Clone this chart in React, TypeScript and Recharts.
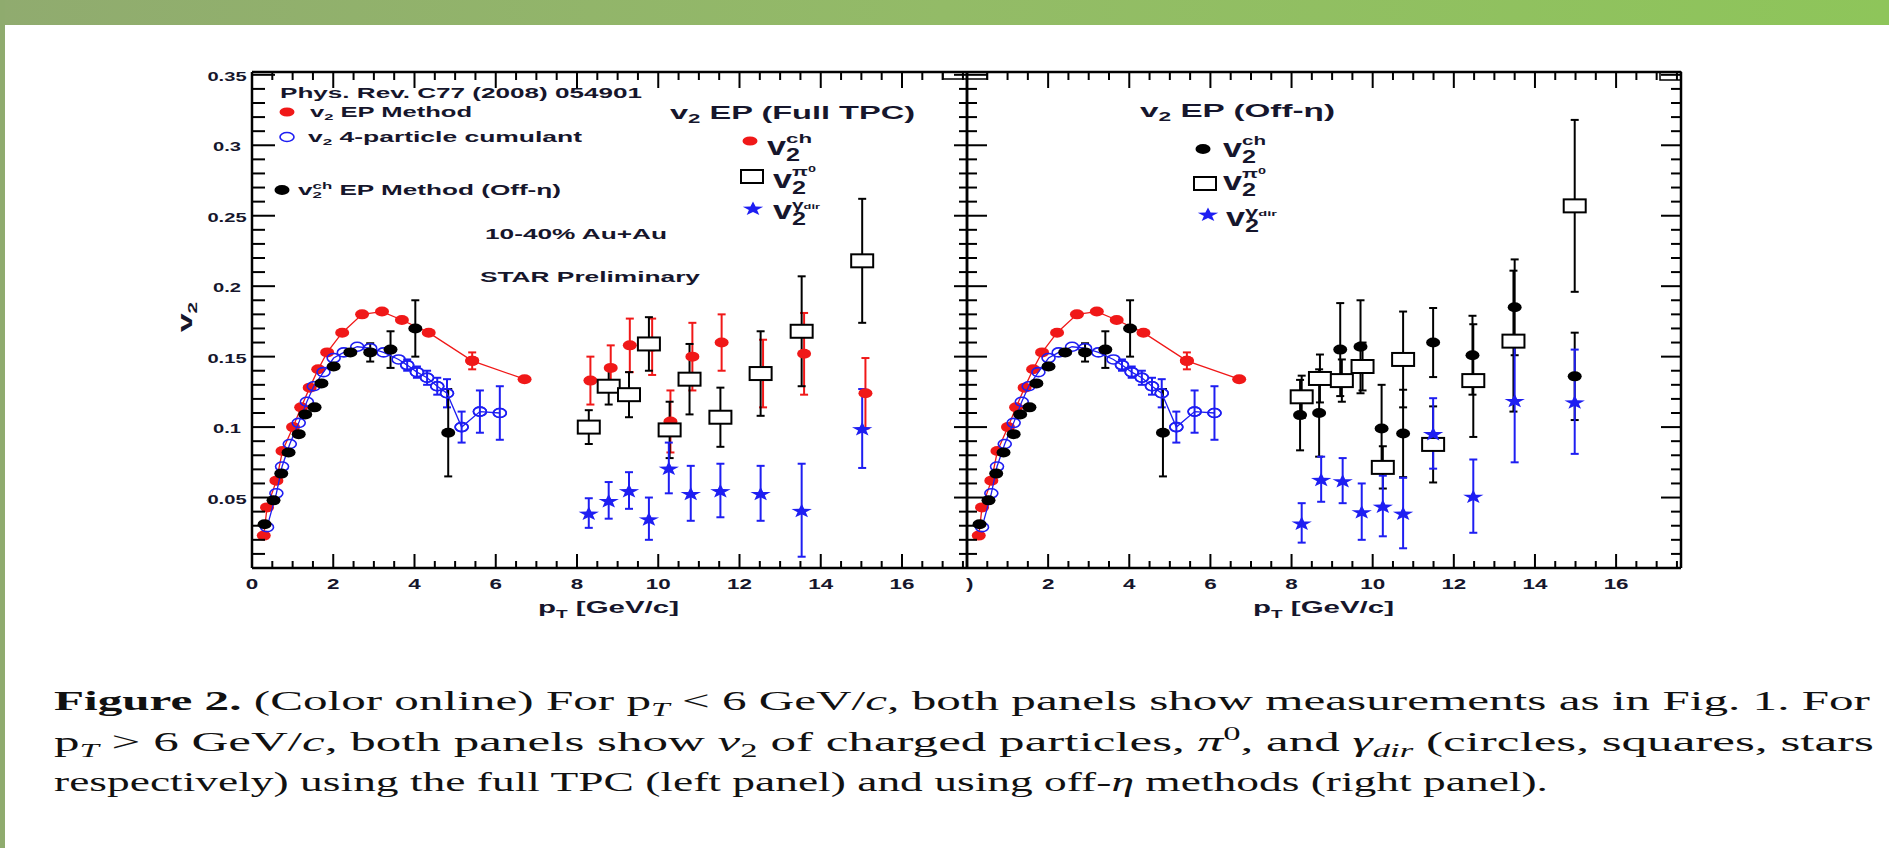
import React from 'react';
import { ScatterChart, Scatter, XAxis, YAxis, ErrorBar } from 'recharts';

// page + plot frame (px)
const W = 1889;
const H = 848;
const TOP = 72;
const BOTTOM = 568;
const L0 = 252;
const SPLIT = 967;
const R1 = 1681;
const X_MAX = 17.6;
const Y_MAX = 0.352;

const RED = '#f01818';
const BLUE = '#1e1ef2';
const INK = '#16162c';
const SANS = '"Liberation Sans", Arial, Helvetica, sans-serif';
const SERIF = '"Liberation Serif", "DejaVu Serif", serif';

// ---- data: low pT (same in both panels) ----
const epPt = [0.29, 0.37, 0.6, 0.75, 1.01, 1.21, 1.42, 1.63, 1.85, 2.22, 2.71, 3.2, 3.69, 4.35, 5.42, 6.71];
const epV2 = [0.023, 0.043, 0.062, 0.083, 0.1, 0.114, 0.128, 0.141, 0.153, 0.167, 0.18, 0.182, 0.176, 0.167, 0.147, 0.134];
const epErrPt = [5.42];
const epErrV2 = [0.147];
const epErr = [0.006];

const cuPt = [0.37, 0.6, 0.74, 0.93, 1.15, 1.35, 1.52, 1.76, 2.01, 2.26, 2.59, 2.91, 3.24, 3.61, 3.82, 4.06, 4.31, 4.56, 4.8, 5.16, 5.61, 6.1];
const cuV2 = [0.029, 0.053, 0.072, 0.088, 0.103, 0.118, 0.129, 0.139, 0.149, 0.153, 0.157, 0.156, 0.153, 0.148, 0.144, 0.139, 0.135, 0.129, 0.124, 0.1, 0.111, 0.11];
const cuErrPt = [3.82, 4.06, 4.31, 4.56, 4.8, 5.16, 5.61, 6.1];
const cuErrV2 = [0.144, 0.139, 0.135, 0.129, 0.124, 0.1, 0.111, 0.11];
const cuErr = [0.004, 0.004, 0.005, 0.006, 0.01, 0.011, 0.015, 0.019];

const offPt = [0.31, 0.53, 0.72, 0.9, 1.15, 1.31, 1.54, 1.71, 2.01, 2.42, 2.91, 3.41, 4.02, 4.83];
const offV2 = [0.031, 0.048, 0.067, 0.082, 0.095, 0.109, 0.114, 0.131, 0.143, 0.153, 0.153, 0.155, 0.17, 0.096];
const offErr = [0, 0, 0, 0, 0, 0, 0, 0, 0, 0, 0.0065, 0.013, 0.02, 0.031];

// ---- data: high pT, full TPC (left) ----
const chFullPt = [8.33, 8.83, 9.3, 9.85, 10.3, 10.84, 11.56, 12.58, 13.59, 15.1];
const chFullV2 = [0.133, 0.142, 0.158, 0.157, 0.104, 0.15, 0.16, 0.138, 0.152, 0.124];
const chFullErr = [0.017, 0.016, 0.019, 0.02, 0.022, 0.024, 0.02, 0.024, 0.029, 0.025];

const pi0FullPt = [8.29, 8.78, 9.28, 9.77, 10.28, 10.77, 11.53, 12.52, 13.53, 15.02];
const pi0FullV2 = [0.1, 0.129, 0.123, 0.159, 0.098, 0.134, 0.107, 0.138, 0.168, 0.218];
const pi0FullErr = [0.012, 0.013, 0.016, 0.019, 0.02, 0.025, 0.021, 0.03, 0.039, 0.044];

const gamFullPt = [8.29, 8.78, 9.28, 9.77, 10.26, 10.8, 11.53, 12.52, 13.53, 15.02];
const gamFullV2 = [0.039, 0.048, 0.055, 0.035, 0.071, 0.053, 0.055, 0.053, 0.041, 0.099];
const gamFullErr = [0.0105, 0.013, 0.013, 0.015, 0.018, 0.0195, 0.019, 0.0195, 0.033, 0.028];

// ---- data: high pT, off-eta (right) ----
const chOffPt = [8.21, 8.68, 9.2, 9.7, 10.22, 10.75, 11.49, 12.46, 13.5, 14.98];
const chOffV2 = [0.1085, 0.11, 0.155, 0.157, 0.099, 0.0955, 0.16, 0.151, 0.185, 0.136];
const chOffErr = [0.025, 0.031, 0.033, 0.033, 0.031, 0.031, 0.0245, 0.028, 0.034, 0.031];

const pi0OffPt = [8.25, 8.7, 9.24, 9.75, 10.25, 10.75, 11.49, 12.48, 13.47, 14.98];
const pi0OffV2 = [0.1215, 0.1345, 0.133, 0.143, 0.0714, 0.148, 0.0877, 0.133, 0.161, 0.257];
const pi0OffErr = [0.015, 0.017, 0.015, 0.017, 0.015, 0.034, 0.027, 0.04, 0.05, 0.061];

const gamOffPt = [8.25, 8.73, 9.26, 9.73, 10.25, 10.75, 11.49, 12.48, 13.5, 14.98];
const gamOffV2 = [0.032, 0.063, 0.062, 0.04, 0.044, 0.039, 0.0955, 0.051, 0.119, 0.118];
const gamOffErr = [0.014, 0.016, 0.016, 0.02, 0.0215, 0.025, 0.025, 0.026, 0.044, 0.037];

// ---- ticks ----
const xTickLabels = ['0', '2', '4', '6', '8', '10', '12', '14', '16'];
const yTickLabels = ['0.05', '0.1', '0.15', '0.2', '0.25', '0.3', '0.35'];
const xTicks = Array.from({ length: 36 }, (_, i) => i * 0.5);
const yTicks = Array.from({ length: 36 }, (_, i) => i / 100);

const pts = (xs: number[], ys: number[], es?: number[]) =>
  xs.map((x, i) => ({ x, y: ys[i], e: es ? es[i] : 0 }));

const xLabelOf = (v: number) => xTickLabels.find((s) => Number(s) === v);
const yLabelOf = (v: number) => yTickLabels.find((s) => Math.abs(Number(s) - v) < 1e-9);

type Side = 'bottom' | 'top' | 'left' | 'right';

const makeTick = (side: Side, major: number, minor: number, labels: boolean, skip: string[] = []) =>
  (props: any) => {
    const { x, y, payload } = props;
    const v = payload.value as number;
    const horiz = side === 'bottom' || side === 'top';
    const lab = horiz ? xLabelOf(v) : yLabelOf(v);
    const isMajor = horiz ? Math.abs(v % 2) < 1e-9 : lab !== undefined;
    const len = isMajor ? major : minor;
    let x2 = x;
    let y2 = y;
    if (side === 'bottom') y2 = y - len;
    if (side === 'top') y2 = y + len;
    if (side === 'left') x2 = x + len;
    if (side === 'right') x2 = x - len;
    const showLab = labels && lab !== undefined && !skip.includes(lab);
    return (
      <g>
        <line x1={x} y1={y} x2={x2} y2={y2} stroke="#000" strokeWidth={2} />
        {showLab && side === 'bottom' && (
          <text transform={`translate(${x},${y + 21}) scale(1.6,1)`} textAnchor="middle" fontSize={14}
            fontWeight="bold" fontFamily={SANS} fill={INK}>{lab}</text>
        )}
        {showLab && side === 'left' && (
          <text transform={`translate(${x - 25},${y + 6}) scale(1.55,1)`} textAnchor="middle" fontSize={13}
            fontWeight="bold" fontFamily={SANS} fill={INK}>{lab}</text>
        )}
      </g>
    );
  };

// ---- marker shapes ----
const dot = (fill: string) => (p: any) => <ellipse cx={p.cx} cy={p.cy} rx={7} ry={5} fill={fill} />;
const ring = (p: any) => (
  <ellipse cx={p.cx} cy={p.cy} rx={6.5} ry={4.5} fill="none" stroke={BLUE} strokeWidth={1.6} />
);
const box = (p: any) => (
  <rect x={p.cx - 11} y={p.cy - 6.5} width={22} height={13} fill="#fff" stroke="#000" strokeWidth={2} />
);
const starPath = (cx: number, cy: number) => {
  const R = 7.4;
  const r = 3;
  const sx = 1.45;
  let d = '';
  for (let i = 0; i < 10; i++) {
    const a = -Math.PI / 2 + (i * Math.PI) / 5;
    const rad = i % 2 === 0 ? R : r;
    d += (i ? 'L' : 'M') + (cx + Math.cos(a) * rad * sx).toFixed(1) + ',' + (cy + Math.sin(a) * rad + 1).toFixed(1);
  }
  return d + 'Z';
};
const star = (p: any) => <path d={starPath(p.cx, p.cy)} fill={BLUE} />;

const axisLine = { stroke: '#000', strokeWidth: 2.5 };

function Panel(props: {
  left: number;
  right: number;
  ticks: [number, number, number, number, number, number, number, number];
  skip: string[];
  children: React.ReactNode;
}) {
  const { left, right, ticks: t, skip, children } = props;
  // every axis is 1px thick, so the margins are shrunk by 1 to keep the frame where it belongs
  return (
    <div style={{ position: 'absolute', left: 0, top: 0 }}>
      <ScatterChart width={W} height={H}
        margin={{ top: TOP - 1, bottom: H - BOTTOM - 1, left: left - 1, right: W - right - 1 }}>
        <XAxis xAxisId="b" type="number" dataKey="x" domain={[0, X_MAX]} allowDataOverflow ticks={xTicks}
          interval={0} height={1} tickSize={0} tickMargin={0} tickLine={false} axisLine={axisLine}
          tick={makeTick('bottom', t[0], t[1], true, skip)} />
        <XAxis xAxisId="t" orientation="top" type="number" dataKey="x" domain={[0, X_MAX]} allowDataOverflow
          ticks={xTicks} interval={0} height={1} tickSize={0} tickMargin={0} tickLine={false} axisLine={axisLine}
          tick={makeTick('top', t[2], t[3], false)} />
        <YAxis yAxisId="l" type="number" dataKey="y" domain={[0, Y_MAX]} allowDataOverflow ticks={yTicks}
          interval={0} width={1} tickSize={0} tickMargin={0} tickLine={false} axisLine={axisLine}
          tick={makeTick('left', t[4], t[5], left === L0)} />
        <YAxis yAxisId="r" orientation="right" type="number" dataKey="y" domain={[0, Y_MAX]} allowDataOverflow
          ticks={yTicks} interval={0} width={1} tickSize={0} tickMargin={0} tickLine={false} axisLine={axisLine}
          tick={makeTick('right', t[6], t[7], false)} />
        {children}
      </ScatterChart>
    </div>
  );
}

const lowPtSeries = (key: string) => [
  <Scatter key={key + 'ep'} xAxisId="b" yAxisId="l" data={pts(epPt, epV2)} shape={dot(RED)}
    line={{ stroke: RED, strokeWidth: 1.3 }} isAnimationActive={false} />,
  <Scatter key={key + 'epe'} xAxisId="b" yAxisId="l" data={pts(epErrPt, epErrV2, epErr)} shape={dot(RED)}
    isAnimationActive={false}>
    <ErrorBar dataKey="e" direction="y" width={4} stroke={RED} strokeWidth={2} isAnimationActive={false} />
  </Scatter>,
  <Scatter key={key + 'cu'} xAxisId="b" yAxisId="l" data={pts(cuPt, cuV2)} shape={ring}
    line={{ stroke: BLUE, strokeWidth: 1.3 }} isAnimationActive={false} />,
  <Scatter key={key + 'cue'} xAxisId="b" yAxisId="l" data={pts(cuErrPt, cuErrV2, cuErr)} shape={ring}
    isAnimationActive={false}>
    <ErrorBar dataKey="e" direction="y" width={4} stroke={BLUE} strokeWidth={2} isAnimationActive={false} />
  </Scatter>,
  <Scatter key={key + 'off'} xAxisId="b" yAxisId="l" data={pts(offPt, offV2, offErr)} shape={dot('#000')}
    isAnimationActive={false}>
    <ErrorBar dataKey="e" direction="y" width={4} stroke="#000" strokeWidth={2} isAnimationActive={false} />
  </Scatter>,
];

const hiSeries = (key: string, data: { x: number; y: number; e: number }[], shape: any, color: string) => (
  <Scatter key={key} xAxisId="b" yAxisId="l" data={data} shape={shape} isAnimationActive={false}>
    <ErrorBar dataKey="e" direction="y" width={4} stroke={color} strokeWidth={2} isAnimationActive={false} />
  </Scatter>
);

function Txt(p: { x: number; y: number; w?: number; size: number; children: React.ReactNode; anchor?: string }) {
  return (
    <text x={p.x} y={p.y} textLength={p.w} lengthAdjust={p.w ? 'spacingAndGlyphs' : undefined} fontSize={p.size}
      fontWeight="bold" fontFamily={SANS} fill={INK} textAnchor={p.anchor as any}>
      {p.children}
    </text>
  );
}

// stacked v_2^{...} legend label
function VLabel(p: { x: number; y: number; sup: React.ReactNode; supW: number; supDy?: number }) {
  return (
    <g>
      <Txt x={p.x} y={p.y} w={19} size={26}>v</Txt>
      <Txt x={p.x + 19} y={p.y + 6} w={14} size={18}>2</Txt>
      <Txt x={p.x + 19} y={p.y - 12 + (p.supDy || 0)} w={p.supW} size={13}>{p.sup}</Txt>
    </g>
  );
}

function Overlay() {
  const ital = { fontStyle: 'italic' as const };
  return (
    <svg width={W} height={H} style={{ position: 'absolute', left: 0, top: 0 }}>
      {/* small frame boxes */}
      <rect x={943} y={72} width={44} height={7} fill="none" stroke="#000" strokeWidth={1.5} />
      <rect x={1660} y={72} width={21} height={8} fill="none" stroke="#000" strokeWidth={1.5} />

      {/* left panel notes */}
      <Txt x={280} y={98} w={362} size={14}>Phys. Rev. C77 (2008) 054901</Txt>
      <ellipse cx={287} cy={112} rx={7.5} ry={4.5} fill={RED} />
      <Txt x={310} y={117} w={162} size={14}>v<tspan dy={3} fontSize={9}>2</tspan><tspan dy={-3}> EP Method</tspan></Txt>
      <ellipse cx={287} cy={137} rx={7} ry={4.5} fill="none" stroke={BLUE} strokeWidth={1.6} />
      <Txt x={308} y={142} w={274} size={14}>v<tspan dy={3} fontSize={9}>2</tspan><tspan dy={-3}> 4-particle cumulant</tspan></Txt>
      <ellipse cx={282} cy={190} rx={7.5} ry={5} fill="#000" />
      <Txt x={298} y={195} w={263} size={14}>v<tspan dy={3} fontSize={9}>2</tspan><tspan dy={-9} dx={-5} fontSize={9}>ch</tspan><tspan dy={6}> EP Method (Off-η)</tspan></Txt>
      <Txt x={485} y={239} w={182} size={14}>10-40% Au+Au</Txt>
      <Txt x={480} y={282} w={220} size={14}>STAR Preliminary</Txt>
      <Txt x={670} y={119} w={245} size={19}>v<tspan dy={4} fontSize={13}>2</tspan><tspan dy={-4}> EP (Full TPC)</tspan></Txt>

      <ellipse cx={750} cy={141} rx={7.5} ry={4.5} fill={RED} />
      <VLabel x={767} y={155} sup="ch" supW={26} />
      <rect x={741} y={170} width={22} height={13} fill="#fff" stroke="#000" strokeWidth={2} />
      <VLabel x={773} y={188} sup={<>π<tspan dy={-4} fontSize={9}>0</tspan></>} supW={24} />
      <path d={starPath(753, 208)} fill={BLUE} />
      <VLabel x={773} y={219} sup={<>γ<tspan fontSize={8}>dir</tspan></>} supW={28} supDy={2} />

      {/* right panel notes */}
      <Txt x={1140} y={117} w={195} size={19}>v<tspan dy={4} fontSize={13}>2</tspan><tspan dy={-4}> EP (Off-η)</tspan></Txt>
      <ellipse cx={1203} cy={149} rx={7.5} ry={5} fill="#000" />
      <VLabel x={1223} y={157} sup="ch" supW={24} />
      <rect x={1194} y={177} width={22} height={13} fill="#fff" stroke="#000" strokeWidth={2} />
      <VLabel x={1223} y={190} sup={<>π<tspan dy={-4} fontSize={9}>0</tspan></>} supW={24} />
      <path d={starPath(1208, 214)} fill={BLUE} />
      <VLabel x={1226} y={226} sup={<>γ<tspan fontSize={8}>dir</tspan></>} supW={32} supDy={2} />

      {/* axis titles */}
      <g transform="translate(192,332) rotate(-90)">
        <text x={0} y={0} textLength={30} lengthAdjust="spacingAndGlyphs" fontSize={21} fontWeight="bold"
          fontFamily={SANS} fill={INK}>v<tspan dy={5} fontSize={13}>2</tspan></text>
      </g>
      {[538, 1253].map((x0) => (
        <text key={x0} x={x0} y={613} textLength={141} lengthAdjust="spacingAndGlyphs" fontSize={17}
          fontWeight="bold" fontFamily={SANS} fill={INK}>
          p<tspan dy={5} fontSize={11}>T</tspan><tspan dy={-5}> [GeV/c]</tspan>
        </text>
      ))}
      {/* right panel's "0" is cut by the left frame in the original */}
      <text transform="translate(966,589) scale(1.6,1)" fontSize={14} fontWeight="bold" fontFamily={SANS}
        fill={INK}>)</text>

      {/* caption */}
      <g fontFamily={SERIF} fontSize={28} fill="#111">
        <text x={54} y={710} textLength={1816} lengthAdjust="spacingAndGlyphs">
          <tspan fontWeight="bold">Figure 2.</tspan> (Color online) For p<tspan dy={6} fontSize={19} {...ital}>T</tspan>
          <tspan dy={-6}> &lt; 6 GeV/</tspan><tspan {...ital}>c</tspan>, both panels show measurements as in Fig. 1. For
        </text>
        <text x={54} y={751} textLength={1820} lengthAdjust="spacingAndGlyphs">
          p<tspan dy={6} fontSize={19} {...ital}>T</tspan><tspan dy={-6}> &gt; 6 GeV/</tspan><tspan {...ital}>c</tspan>, both panels show <tspan {...ital}>v</tspan>
          <tspan dy={6} fontSize={19}>2</tspan><tspan dy={-6}> of charged particles, </tspan><tspan {...ital}>π</tspan>
          <tspan dy={-11} fontSize={19}>0</tspan><tspan dy={11}>, and </tspan><tspan {...ital}>γ</tspan>
          <tspan dy={6} fontSize={19} {...ital}>dir</tspan><tspan dy={-6}> (circles, squares, stars</tspan>
        </text>
        <text x={54} y={791} textLength={1494} lengthAdjust="spacingAndGlyphs">
          respectively) using the full TPC (left panel) and using off-<tspan {...ital}>η</tspan> methods (right panel).
        </text>
      </g>
    </svg>
  );
}

export default function App() {
  return (
    <div style={{ position: 'absolute', left: 0, top: 0, width: W, height: H, overflow: 'hidden', background: '#fff' }}>
      <div style={{ position: 'absolute', left: 0, top: 0, width: W, height: 25,
        background: 'linear-gradient(90deg, #90ab6f 0%, #93bb67 50%, #8ec55a 100%)' }} />
      <div style={{ position: 'absolute', left: 0, top: 0, width: 5, height: H, background: '#8fab6e' }} />

      <Panel left={L0} right={SPLIT} ticks={[14, 7, 16, 8, 23, 13, 13, 8]} skip={[]}>
        {lowPtSeries('L')}
        {hiSeries('chF', pts(chFullPt, chFullV2, chFullErr), dot(RED), RED)}
        {hiSeries('piF', pts(pi0FullPt, pi0FullV2, pi0FullErr), box, '#000')}
        {hiSeries('gaF', pts(gamFullPt, gamFullV2, gamFullErr), star, BLUE)}
      </Panel>
      <Panel left={SPLIT} right={R1} ticks={[14, 7, 16, 8, 20, 10, 20, 10]} skip={['0']}>
        {lowPtSeries('R')}
        {hiSeries('chO', pts(chOffPt, chOffV2, chOffErr), dot('#000'), '#000')}
        {hiSeries('piO', pts(pi0OffPt, pi0OffV2, pi0OffErr), box, '#000')}
        {hiSeries('gaO', pts(gamOffPt, gamOffV2, gamOffErr), star, BLUE)}
      </Panel>
      <Overlay />
    </div>
  );
}
